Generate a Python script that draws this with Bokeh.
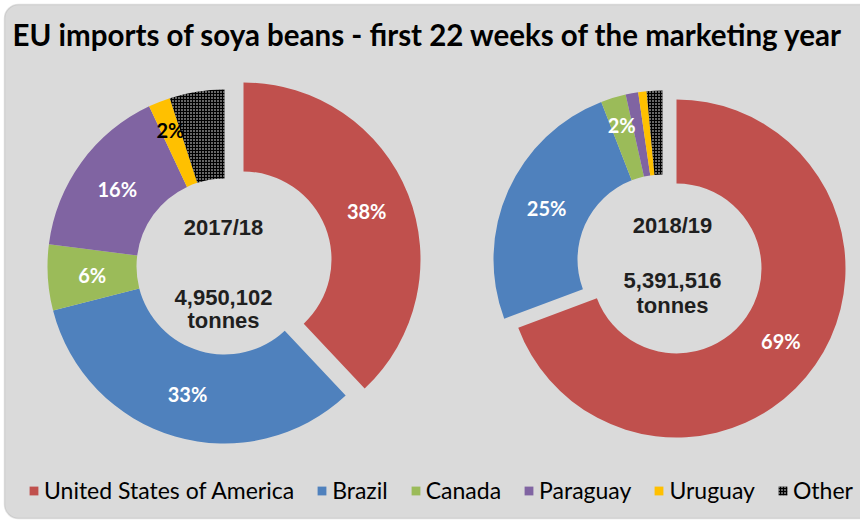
import numpy as np
from bokeh.plotting import figure
from bokeh.models import ColumnDataSource, Range1d, BoxAnnotation, Legend, LegendItem, Label
from bokeh.embed import file_html
from bokeh.resources import INLINE
from bokeh.core.properties import value

# ---------------- data ----------------
title = "EU imports of soya beans - first 22 weeks of the marketing year"
countries = ["United States of America", "Brazil", "Canada", "Paraguay", "Uruguay", "Other"]
colors = ["#C0504D", "#4F81BD", "#9BBB59", "#8064A2", "#FFC000", "#000000"]
years = ["2017/18", "2018/19"]
totals = ["4,950,102", "5,391,516"]
unit = "tonnes"
share_1718 = [38.0, 33.0, 6.0, 16.0, 2.0, 5.0]
share_1819 = [69.3, 24.8, 2.4, 1.2, 0.8, 1.5]
labels_1718 = ["38%", "33%", "6%", "16%", "2%", ""]
labels_1819 = ["69%", "25%", "2%", "", "", ""]
label_colors_1718 = ["white", "white", "white", "white", "black", "white"]
label_colors_1819 = ["white", "white", "white", "white", "white", "white"]

shares = [share_1718, share_1819]
labels = [labels_1718, labels_1819]
label_colors = [label_colors_1718, label_colors_1819]

# ---------------- layout (pixels, image coords y-down) ----------------
W, H = 860, 524
donuts = [
    dict(cx=224, cy=266, R=177, r=88, explode=(19, -7), tx=223, ty=(227, 297, 320)),
    dict(cx=662, cy=259, R=169, r=85, explode=(14, 9), tx=672, ty=(225, 280, 305)),
]
BG = "#DADADA"

p = figure(width=W, height=H, x_range=Range1d(0, W), y_range=Range1d(0, H),
           output_backend="svg", toolbar_location=None, min_border=0,
           x_axis_location=None, y_axis_location=None,
           background_fill_color="white", border_fill_color="white",
           outline_line_color=None)
p.grid.visible = False

bg = BoxAnnotation(left=4, right=W + 40, bottom=6, top=H - 4, fill_color=BG, fill_alpha=1,
                   line_color="#A6A6A6", line_width=1.5, border_radius=14, level="underlay")
p.add_layout(bg)

renderers = []
lab_x, lab_y, lab_t, lab_c = [], [], [], []
for ci, name in enumerate(countries):
    xs, ys, a0s, a1s, Rs, rs = [], [], [], [], [], []
    for di, d in enumerate(donuts):
        vals = np.array(shares[di], dtype=float)
        fr = vals / vals.sum()
        cum = np.concatenate([[0.0], np.cumsum(fr)])
        f0, f1 = cum[ci], cum[ci + 1]
        ox, oy = (d["explode"] if ci == 0 else (0, 0))
        cx = d["cx"] + ox
        cy = H - (d["cy"] + oy)
        xs.append(cx); ys.append(cy)
        a0s.append(np.pi / 2 - 2 * np.pi * f1)
        a1s.append(np.pi / 2 - 2 * np.pi * f0)
        Rs.append(d["R"]); rs.append(d["r"])
        # label
        txt = labels[di][ci]
        if txt:
            fm = (f0 + f1) / 2
            rl = (d["R"] + d["r"]) / 2 if fr[ci] >= 0.04 else d["R"] * 0.83
            lab_x.append(cx + rl * np.sin(2 * np.pi * fm))
            lab_y.append(cy + rl * np.cos(2 * np.pi * fm))
            lab_t.append(txt)
            lab_c.append(label_colors[di][ci])
    src = ColumnDataSource(dict(x=xs, y=ys, a0=a0s, a1=a1s, R=Rs, r=rs))
    kw = dict(fill_color=colors[ci], line_color=None)
    if name == "Other":
        kw.update(hatch_pattern="dot", hatch_color="white", hatch_scale=3, hatch_weight=1.0)
    rend = p.annular_wedge(x="x", y="y", inner_radius="r", outer_radius="R",
                           start_angle="a0", end_angle="a1", direction="anticlock",
                           source=src, **kw)
    renderers.append(rend)

lsrc = ColumnDataSource(dict(x=lab_x, y=lab_y, text=lab_t, color=lab_c))
p.text(x="x", y="y", text="text", text_color="color", source=lsrc,
       text_font=value("Lato"), text_font_style="bold", text_font_size="20px",
       text_align="center", text_baseline="middle")

# centre texts
for di, d in enumerate(donuts):
    for txt, yy in zip([years[di], totals[di], unit], d["ty"]):
        p.add_layout(Label(x=d["tx"], y=H - yy, text=txt, text_align="center",
                           text_baseline="middle", text_font="Liberation Sans",
                           text_font_style="bold", text_font_size="22px",
                           text_color="#1F1F1F"))

# title
p.add_layout(Label(x=12, y=H - 34, text=title, text_align="left", text_baseline="middle",
                   text_font="Lato", text_font_style="bold", text_font_size="29.5px",
                   text_color="black"))

legend = Legend(items=[LegendItem(label=c, renderers=[r]) for c, r in zip(countries, renderers)],
                orientation="horizontal", location=(28, 20),
                label_text_font="Lato", label_text_font_size="23px", label_text_color="black",
                glyph_width=11, glyph_height=11, label_standoff=5, spacing=22,
                padding=0, margin=0, background_fill_alpha=0, border_line_color=None)
p.add_layout(legend, "center")

open("out.html", "w").write(file_html(p, INLINE))
